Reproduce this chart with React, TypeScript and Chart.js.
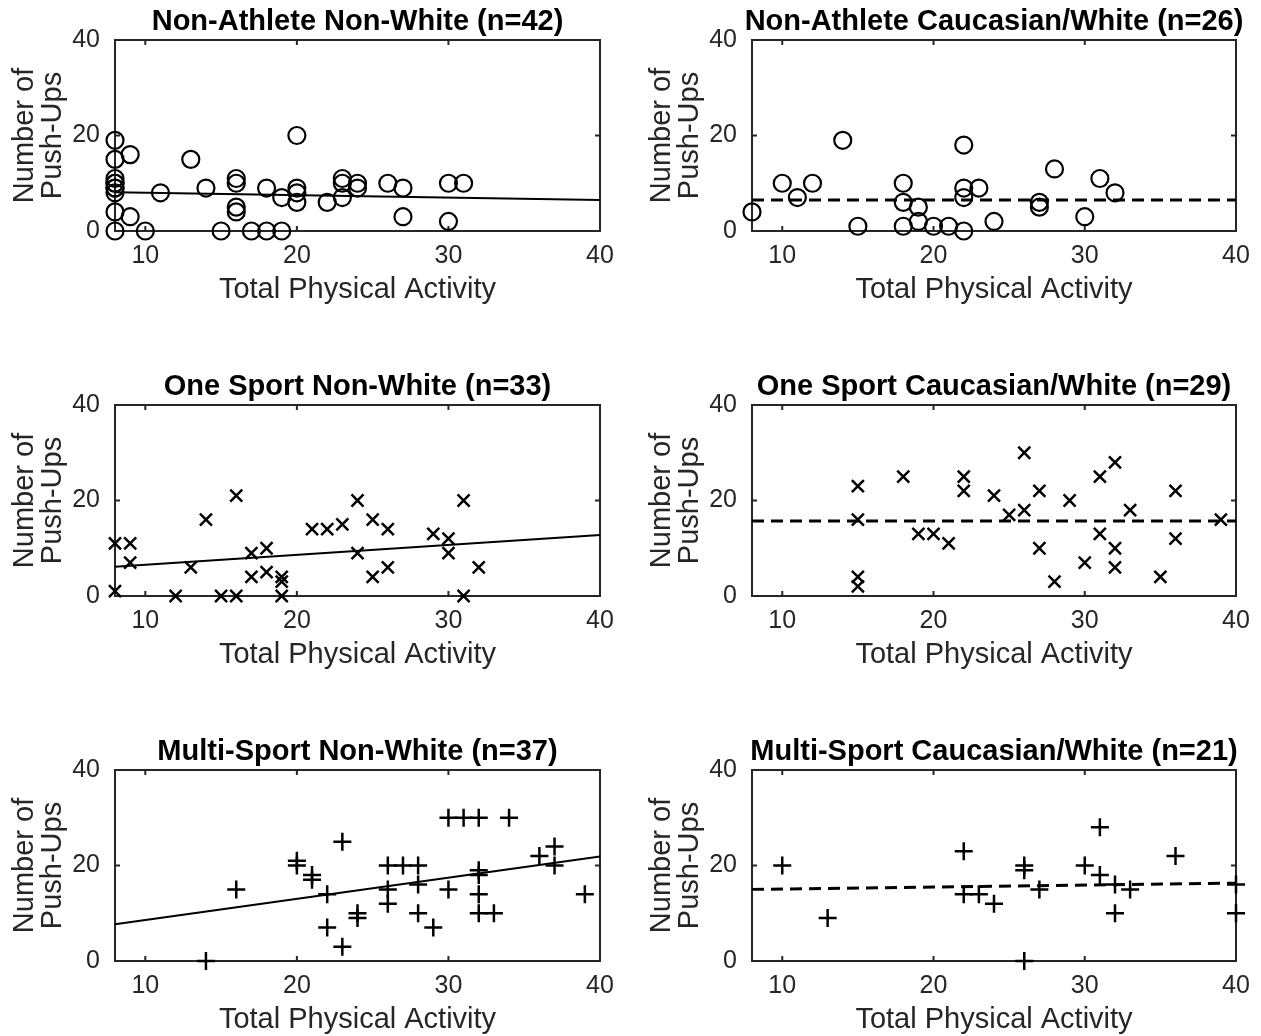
import React, { useEffect, useRef } from "react";
import { Chart, registerables } from "chart.js";

Chart.register(...registerables);

const FONT = "'Liberation Sans', Arial, Helvetica, sans-serif";
const INK = "#262626";

// axis ticks
const xTicks = [10, 20, 30, 40];
const yTicks = [0, 20, 40];
const xRange = [8, 40];
const yRange = [0, 40];
const xLabel = "Total Physical Activity";
const yLabel = ["Number of", "Push-Ups"];

// Non-Athlete Non-White (n=42)
const naNwTitle = "Non-Athlete Non-White (n=42)";
const naNwX = [8, 9, 8, 8, 8, 8, 8, 8, 8, 8, 9, 8, 10, 11, 13, 14, 15, 16, 16, 16, 16, 17, 18, 18, 19, 19, 20, 20, 20, 20, 22, 23, 23, 23, 24, 24, 26, 27, 27, 30, 31, 30];
const naNwY = [19, 16, 15, 11, 10, 10, 9, 9, 8, 4, 3, 0, 0, 8, 15, 9, 0, 11, 10, 5, 4, 0, 9, 0, 7, 0, 20, 9, 8, 6, 6, 11, 10, 7, 10, 9, 10, 9, 3, 10, 10, 2];
const naNwFitX = [8, 40];
const naNwFitY = [8.1, 6.5];

// Non-Athlete Caucasian/White (n=26)
const naWTitle = "Non-Athlete Caucasian/White (n=26)";
const naWX = [8, 10, 11, 12, 14, 15, 18, 18, 18, 19, 19, 20, 21, 22, 22, 22, 22, 23, 24, 27, 27, 28, 30, 31, 32];
const naWY = [4, 10, 7, 10, 19, 1, 10, 6, 1, 5, 2, 1, 1, 18, 9, 7, 0, 9, 2, 6, 5, 13, 3, 11, 8];
const naWFitX = [8, 40];
const naWFitY = [6.5, 6.5];

// One Sport Non-White (n=33)
const osNwTitle = "One Sport Non-White (n=33)";
const osNwX = [8, 9, 9, 8, 12, 13, 14, 15, 16, 16, 17, 17, 18, 18, 19, 19, 19, 21, 22, 23, 24, 24, 25, 25, 26, 26, 29, 30, 30, 31, 31, 32];
const osNwY = [11, 11, 7, 1, 0, 6, 16, 0, 21, 0, 9, 4, 10, 5, 4, 3, 0, 14, 14, 15, 20, 9, 16, 4, 14, 6, 13, 12, 9, 20, 0, 6];
const osNwFitX = [8, 40];
const osNwFitY = [6.1, 12.8];

// One Sport Caucasian/White (n=29)
const osWTitle = "One Sport Caucasian/White (n=29)";
const osWX = [15, 15, 15, 15, 18, 19, 20, 21, 22, 22, 24, 25, 26, 26, 27, 27, 28, 29, 30, 31, 32, 31, 32, 32, 33, 35, 36, 36, 39];
const osWY = [23, 16, 4, 2, 25, 13, 13, 11, 25, 22, 21, 17, 30, 18, 22, 10, 3, 20, 7, 25, 28, 13, 10, 6, 18, 4, 22, 12, 16];
const osWFitX = [8, 40];
const osWFitY = [15.7, 15.7];

// Multi-Sport Non-White (n=37)
const msNwTitle = "Multi-Sport Non-White (n=37)";
const msNwX = [14, 16, 20, 20, 21, 21, 22, 23, 22, 23, 24, 24, 26, 26, 26, 27, 28, 28, 28, 29, 30, 30, 31, 32, 34, 32, 32, 32, 32, 33, 36, 37, 37, 39];
const msNwY = [0, 15, 21, 20, 18, 17, 14, 25, 7, 3, 10, 9, 20, 15, 12, 20, 20, 16, 10, 7, 30, 15, 30, 30, 30, 19, 18, 14, 10, 10, 22, 24, 20, 14];
const msNwFitX = [8, 40];
const msNwFitY = [7.7, 21.9];

// Multi-Sport Caucasian/White (n=21)
const msWTitle = "Multi-Sport Caucasian/White (n=21)";
const msWX = [10, 13, 22, 22, 23, 24, 26, 26, 26, 27, 30, 31, 31, 32, 32, 33, 36, 40, 40];
const msWY = [20, 9, 23, 14, 14, 12, 20, 19, 0, 15, 20, 28, 18, 16, 10, 15, 22, 16, 10];
const msWFitX = [8, 40];
const msWFitY = [15.0, 16.3];

type PanelDef = {
  title: string;
  xs: number[];
  ys: number[];
  marker: "circle" | "crossRot" | "cross";
  fitX: number[];
  fitY: number[];
  dashed: boolean;
  col: number;
  row: number;
};

const panels: PanelDef[] = [
  { title: naNwTitle, xs: naNwX, ys: naNwY, marker: "circle", fitX: naNwFitX, fitY: naNwFitY, dashed: false, col: 0, row: 0 },
  { title: naWTitle, xs: naWX, ys: naWY, marker: "circle", fitX: naWFitX, fitY: naWFitY, dashed: true, col: 1, row: 0 },
  { title: osNwTitle, xs: osNwX, ys: osNwY, marker: "crossRot", fitX: osNwFitX, fitY: osNwFitY, dashed: false, col: 0, row: 1 },
  { title: osWTitle, xs: osWX, ys: osWY, marker: "crossRot", fitX: osWFitX, fitY: osWFitY, dashed: true, col: 1, row: 1 },
  { title: msNwTitle, xs: msNwX, ys: msNwY, marker: "cross", fitX: msNwFitX, fitY: msNwFitY, dashed: false, col: 0, row: 2 },
  { title: msWTitle, xs: msWX, ys: msWY, marker: "cross", fitX: msWFitX, fitY: msWFitY, dashed: true, col: 1, row: 2 },
];

const COL_LEFT = [0, 630];
const COL_WIDTH = [630, 631];
const PLOT_LEFT = [115, 122];
const PLOT_RIGHT = [600, 606];
const YTITLE_PAD = [11, 18];
const ROW_TOP = [0, 365, 730];
const CANVAS_H = 365;
const PLOT_TOP = 40;
const PLOT_BOTTOM = 231;
const XSCALE_H = 75;

function makeFramePlugin(title: string) {
  return {
    id: "frame",
    beforeDatasetsDraw(chart: any) {
      const { ctx, chartArea } = chart;
      const { left, right, top, bottom } = chartArea;
      const xs = chart.scales.x;
      const ys = chart.scales.y;
      ctx.save();
      ctx.strokeStyle = INK;
      ctx.lineWidth = 2;
      ctx.strokeRect(left, top, right - left, bottom - top);
      const tl = 5;
      ctx.beginPath();
      xTicks.forEach((v) => {
        const px = xs.getPixelForValue(v);
        ctx.moveTo(px, bottom);
        ctx.lineTo(px, bottom - tl);
        ctx.moveTo(px, top);
        ctx.lineTo(px, top + tl);
      });
      yTicks.forEach((v) => {
        const py = ys.getPixelForValue(v);
        ctx.moveTo(left, py);
        ctx.lineTo(left + tl, py);
        ctx.moveTo(right, py);
        ctx.lineTo(right - tl, py);
      });
      ctx.stroke();
      ctx.restore();
    },
    afterDraw(chart: any) {
      const { ctx, chartArea } = chart;
      ctx.save();
      ctx.fillStyle = "#000";
      ctx.font = `bold 29px ${FONT}`;
      ctx.textAlign = "center";
      ctx.textBaseline = "middle";
      ctx.fillText(title, (chartArea.left + chartArea.right) / 2, 22);
      ctx.restore();
    },
  };
}

function Panel({ def }: { def: PanelDef }) {
  const ref = useRef<HTMLCanvasElement | null>(null);
  const width = COL_WIDTH[def.col];
  const plotLeft = PLOT_LEFT[def.col];
  const plotRight = PLOT_RIGHT[def.col];

  useEffect(() => {
    if (!ref.current) return;
    const radius = def.marker === "circle" ? 8.5 : def.marker === "crossRot" ? 8.5 : 9;
    const chart = new Chart(ref.current, {
      type: "scatter",
      data: {
        datasets: [
          {
            data: def.xs.map((x, i) => ({ x, y: def.ys[i] })),
            pointStyle: def.marker,
            pointRadius: radius,
            pointBorderWidth: def.marker === "circle" ? 2.2 : 2.5,
            pointBorderColor: "#000",
            pointBackgroundColor: "rgba(0,0,0,0)",
            borderColor: "#000",
            backgroundColor: "rgba(0,0,0,0)",
            showLine: false,
            clip: false as any,
          } as any,
          {
            type: "line",
            data: def.fitX.map((x, i) => ({ x, y: def.fitY[i] })),
            borderColor: "#000",
            borderWidth: def.dashed ? 3 : 2,
            borderDash: def.dashed ? [12, 7] : [],
            pointRadius: 0,
            showLine: true,
            fill: false,
            tension: 0,
            clip: false as any,
          } as any,
        ],
      },
      options: {
        responsive: false,
        animation: false,
        devicePixelRatio: 1,
        events: [],
        layout: {
          padding: {
            top: PLOT_TOP,
            left: 0,
            right: width - plotRight,
            bottom: CANVAS_H - PLOT_BOTTOM - XSCALE_H,
          },
        },
        plugins: {
          legend: { display: false },
          tooltip: { enabled: false },
          title: { display: false },
        },
        scales: {
          x: {
            type: "linear",
            min: xRange[0],
            max: xRange[1],
            afterBuildTicks: (s: any) => {
              s.ticks = xTicks.map((v) => ({ value: v }));
            },
            afterFit: (s: any) => {
              s.height = XSCALE_H;
            },
            grid: { display: false, drawTicks: false },
            border: { display: false },
            ticks: {
              color: INK,
              font: { family: FONT, size: 25 },
              padding: 10,
              maxRotation: 0,
              autoSkip: false,
            },
            title: {
              display: true,
              text: xLabel,
              color: INK,
              font: { family: FONT, size: 29, lineHeight: 1 },
              padding: { top: 0, bottom: 2 },
            },
          },
          y: {
            type: "linear",
            min: yRange[0],
            max: yRange[1],
            afterBuildTicks: (s: any) => {
              s.ticks = yTicks.map((v) => ({ value: v }));
            },
            afterFit: (s: any) => {
              s.width = plotLeft;
            },
            grid: { display: false, drawTicks: false },
            border: { display: false },
            ticks: {
              color: INK,
              font: { family: FONT, size: 25 },
              padding: 15,
              autoSkip: false,
            },
            title: {
              display: true,
              text: yLabel,
              color: INK,
              font: { family: FONT, size: 29, lineHeight: 0.97 },
              padding: { top: YTITLE_PAD[def.col], bottom: 0 },
            },
          },
        },
      } as any,
      plugins: [makeFramePlugin(def.title)],
    });
    return () => chart.destroy();
  }, [def, width, plotLeft, plotRight]);

  return (
    <canvas
      ref={ref}
      width={width}
      height={CANVAS_H}
      style={{
        position: "absolute",
        left: COL_LEFT[def.col],
        top: ROW_TOP[def.row],
        width,
        height: CANVAS_H,
        display: "block",
      }}
    />
  );
}

export default function App() {
  return (
    <div
      style={{
        position: "absolute",
        left: 0,
        top: 0,
        width: 1261,
        height: 1036,
        overflow: "hidden",
        background: "#fff",
      }}
    >
      {panels.map((p, i) => (
        <Panel key={i} def={p} />
      ))}
    </div>
  );
}
